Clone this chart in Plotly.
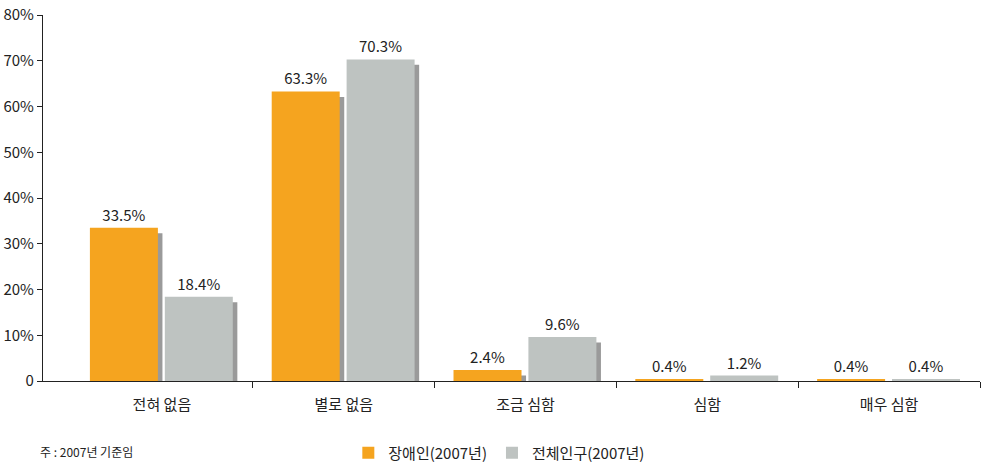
import plotly.graph_objects as go

categories = ["전혀 없음", "별로 없음", "조금 심함", "심함", "매우 심함"]
disabled = [33.5, 63.3, 2.4, 0.4, 0.4]
total = [18.4, 70.3, 9.6, 1.2, 0.4]
disabled_labels = ["33.5%", "63.3%", "2.4%", "0.4%", "0.4%"]
total_labels = ["18.4%", "70.3%", "9.6%", "1.2%", "0.4%"]
series_names = ["장애인(2007년)", "전체인구(2007년)"]
y_tickvals = [0, 10, 20, 30, 40, 50, 60, 70, 80]
y_ticktext = ["0", "10%", "20%", "30%", "40%", "50%", "60%", "70%", "80%"]
footnote = "주 : 2007년 기준임"

ORANGE = "#F5A41F"
GRAY = "#BEC3C1"
SHADOW = "#9A9A9A"
FONT = "Noto Sans CJK KR"
SHADOW_DROP = 1.2

x = list(range(len(categories)))
W = 0.374
OFF_O = -0.396
OFF_G = 0.016
SH = 0.025

fig = go.Figure()
# shadows
fig.add_trace(go.Bar(x=x, y=[max(v - SHADOW_DROP, 0) for v in disabled], width=W, offset=OFF_O + SH,
                     marker=dict(color=SHADOW, line=dict(width=0)), showlegend=False, hoverinfo="skip"))
fig.add_trace(go.Bar(x=x, y=[max(v - SHADOW_DROP, 0) for v in total], width=W, offset=OFF_G + SH,
                     marker=dict(color=SHADOW, line=dict(width=0)), showlegend=False, hoverinfo="skip"))
# main bars
fig.add_trace(go.Bar(x=x, y=disabled, width=W, offset=OFF_O, name=series_names[0],
                     marker=dict(color=ORANGE, line=dict(width=0)),
                     text=disabled_labels, textposition="outside", cliponaxis=False,
                     textfont=dict(family=FONT, size=15, color="#222222")))
fig.add_trace(go.Bar(x=x, y=total, width=W, offset=OFF_G, name=series_names[1],
                     marker=dict(color=GRAY, line=dict(width=0)),
                     text=total_labels, textposition="outside", cliponaxis=False,
                     textfont=dict(family=FONT, size=15, color="#222222")))

fig.update_layout(
    width=982, height=465,
    margin=dict(l=43, r=2, t=15, b=84, autoexpand=False),
    paper_bgcolor="white", plot_bgcolor="white",
    barmode="overlay",
    font=dict(family=FONT, size=15, color="#222222"),
    xaxis=dict(
        range=[-0.654, 4.5], automargin=False,
        tickvals=x, ticktext=categories, ticks="", ticklabelstandoff=10,
        showline=True, linecolor="#222222", linewidth=1.2,
        showgrid=False, zeroline=False,
        tickfont=dict(family=FONT, size=15, color="#222222"),
        minor=dict(tickvals=[i + 0.5 for i in x], ticks="outside", ticklen=6,
                   tickcolor="#222222", tickwidth=1, showgrid=False),
    ),
    yaxis=dict(
        range=[0, 80], tickvals=y_tickvals, ticktext=y_ticktext, automargin=False,
        ticks="outside", ticklen=5, tickcolor="#222222",
        showline=True, linecolor="#222222", linewidth=1.2,
        showgrid=False, zeroline=False,
        tickfont=dict(family=FONT, size=15, color="#222222"),
    ),
    legend=dict(orientation="h", x=0.487, xanchor="center", y=-0.197, yanchor="middle",
                font=dict(family=FONT, size=15, color="#222222"),
                itemwidth=30, traceorder="normal"),
    annotations=[dict(text=footnote, xref="paper", yref="paper", x=-0.005, y=-0.165,
                      xanchor="left", yanchor="top", showarrow=False,
                      font=dict(family=FONT, size=12, color="#222222"))],
)

fig.write_html("out.html", config={"displayModeBar": False},
               post_script="document.body.style.margin='0';document.body.style.overflow='hidden';")
